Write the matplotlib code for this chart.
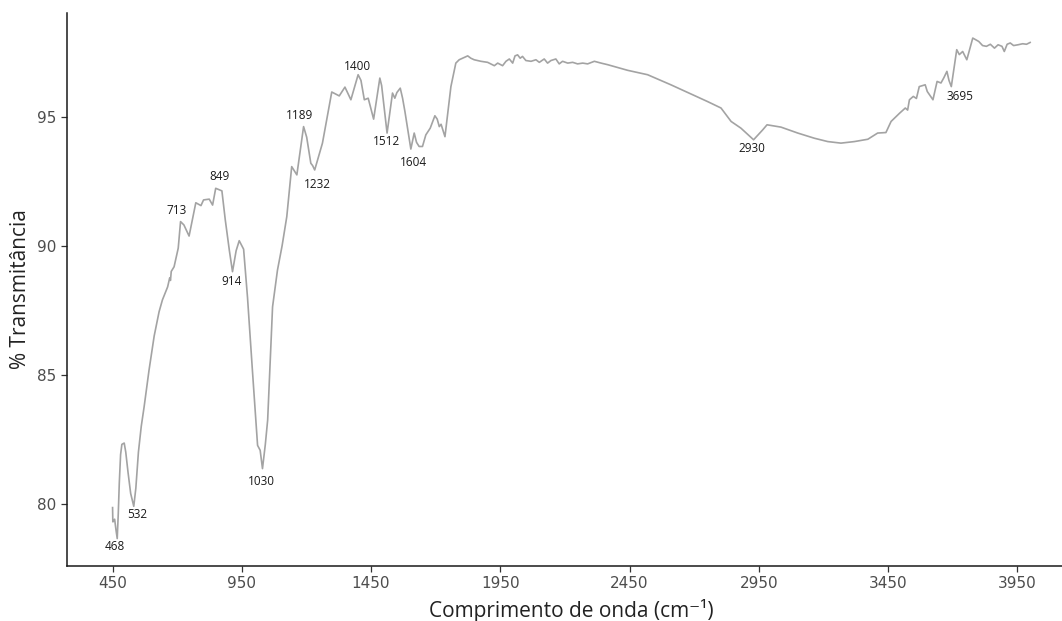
import numpy as np
import matplotlib
matplotlib.use("Agg")
import matplotlib.pyplot as plt

# FTIR spectrum
wavenumber = [450, 451, 452, 458, 463, 468, 472, 476, 481, 486, 495, 501, 510, 520, 532,
              540, 550, 561, 572, 591, 611, 630, 643, 663, 671, 674, 677, 688, 704, 713,
              726, 746, 772, 792, 802, 824, 837, 849, 873, 886, 902, 914, 928, 940, 957,
              972, 991, 1011, 1021, 1030, 1041, 1050, 1069, 1088, 1106, 1124, 1143, 1163,
              1189, 1201, 1217, 1224, 1232, 1262, 1298, 1327, 1349, 1372, 1400, 1411, 1424,
              1439, 1460, 1484, 1491, 1512, 1533, 1542, 1550, 1563, 1572, 1581, 1604, 1617,
              1626, 1636, 1649, 1662, 1679, 1697, 1706, 1714, 1721, 1736, 1759, 1778, 1791,
              1804, 1824, 1836, 1849, 1875, 1901, 1927, 1940, 1959, 1972, 1985, 1998, 2007,
              2017, 2027, 2036, 2049, 2069, 2088, 2101, 2120, 2133, 2146, 2165, 2178, 2191,
              2211, 2230, 2249, 2269, 2288, 2314, 2340, 2365, 2443, 2520, 2610, 2752, 2804,
              2843, 2881, 2930, 2965, 2982, 3036, 3101, 3165, 3217, 3268, 3320, 3372, 3410,
              3442, 3462, 3495, 3517, 3526, 3533, 3548, 3560, 3571, 3594, 3602, 3624, 3640,
              3655, 3666, 3678, 3686, 3695, 3716, 3726, 3739, 3755, 3778, 3801, 3816, 3831,
              3846, 3862, 3876, 3891, 3900, 3911, 3923, 3936, 3953, 3971, 3986, 4000]
transmitance = [79.85, 79.3, 79.3, 79.4, 79.0, 78.65, 79.6, 80.8, 81.9, 82.3, 82.35, 82.0,
                81.2, 80.4, 79.9, 80.6, 82.0, 83.0, 83.75, 85.17, 86.5, 87.44, 87.9, 88.4,
                88.75, 88.65, 89.0, 89.18, 89.9, 90.93, 90.8, 90.37, 91.66, 91.55, 91.77,
                91.8, 91.57, 92.22, 92.12, 91.0, 89.8, 88.99, 89.8, 90.19, 89.86, 88.0,
                85.17, 82.26, 82.07, 81.36, 82.3, 83.24, 87.63, 89.05, 90.0, 91.12, 93.06,
                92.74, 94.61, 94.2, 93.19, 93.1, 92.93, 93.97, 95.95, 95.8, 96.14, 95.65,
                96.62, 96.4, 95.65, 95.71, 94.9, 96.49, 96.2, 94.36, 95.91, 95.71, 95.93,
                96.1, 95.71, 95.2, 93.74, 94.36, 94.0, 93.84, 93.84, 94.29, 94.55, 95.03,
                94.9, 94.61, 94.7, 94.22, 96.16, 97.07, 97.20, 97.26, 97.35, 97.26, 97.20,
                97.14, 97.10, 96.97, 97.07, 96.97, 97.14, 97.23, 97.07, 97.35, 97.39, 97.26,
                97.33, 97.17, 97.14, 97.20, 97.10, 97.23, 97.07, 97.17, 97.23, 97.04, 97.14,
                97.07, 97.10, 97.04, 97.07, 97.04, 97.14, 97.07, 97.01, 96.79, 96.62, 96.23,
                95.58, 95.33, 94.81, 94.55, 94.1, 94.48, 94.68, 94.59, 94.36, 94.16, 94.03,
                93.97, 94.03, 94.12, 94.36, 94.38, 94.81, 95.13, 95.33, 95.25, 95.65, 95.78,
                95.7, 96.16, 96.23, 95.97, 95.65, 96.36, 96.3, 96.5, 96.75, 96.4, 96.16,
                97.59, 97.4, 97.52, 97.2, 98.04, 97.91, 97.75, 97.72, 97.8, 97.65, 97.78,
                97.72, 97.52, 97.8, 97.85, 97.75, 97.78, 97.82, 97.8, 97.87]

# labelled bands
bands = [468, 532, 713, 849, 914, 1030, 1189, 1232, 1400, 1512, 1604, 2930, 3695]
# where each label text sits relative to its band (pixels)
band_offsets = [(-2, -8), (3, -8), (-4, 11), (4, 12), (-1, -10), (-1, -13), (-4, 11),
                (3, -15), (-1, 8), (-1, -8), (3, -13), (-2, -9), (9, -10)]

xticks = [450, 950, 1450, 1950, 2450, 2950, 3450, 3950]
yticks = [80, 85, 90, 95]

fonts = ["Open Sans", "DejaVu Sans"]

fig = plt.figure(figsize=(10.62, 6.21), dpi=100)
ax = fig.add_axes([0.0628, 0.0891, 0.9504, 0.8895])

ax.plot(wavenumber, transmitance, color="#a3a3a3", lw=1.2)

for b, (dx, dy) in zip(bands, band_offsets):
    yb = np.interp(b, wavenumber, transmitance)
    ax.annotate(str(b), xy=(b, yb), xytext=(dx, dy), textcoords="offset pixels",
                ha="center", va="center", fontsize=8.5, family=fonts,
                color="#1a1a1a")

ax.set_xlim(272.5, 4177.5)
ax.set_ylim(77.6, 99.0)
ax.set_xticks(xticks)
ax.set_yticks(yticks)

for s in ["top", "right"]:
    ax.spines[s].set_visible(False)
for s in ["left", "bottom"]:
    ax.spines[s].set_color("#1a1a1a")
    ax.spines[s].set_linewidth(1.1)

ax.tick_params(colors="#333333", labelcolor="#4d4d4d", labelsize=11, length=4, width=0.9)
ax.set_xlabel("Comprimento de onda (cm⁻¹)", fontsize=15, family=fonts,
              color="#222222", labelpad=6)
ax.set_ylabel("% Transmitância", fontsize=15, family=fonts,
              color="#222222", labelpad=4)

fig.savefig("out.png", dpi=100)
